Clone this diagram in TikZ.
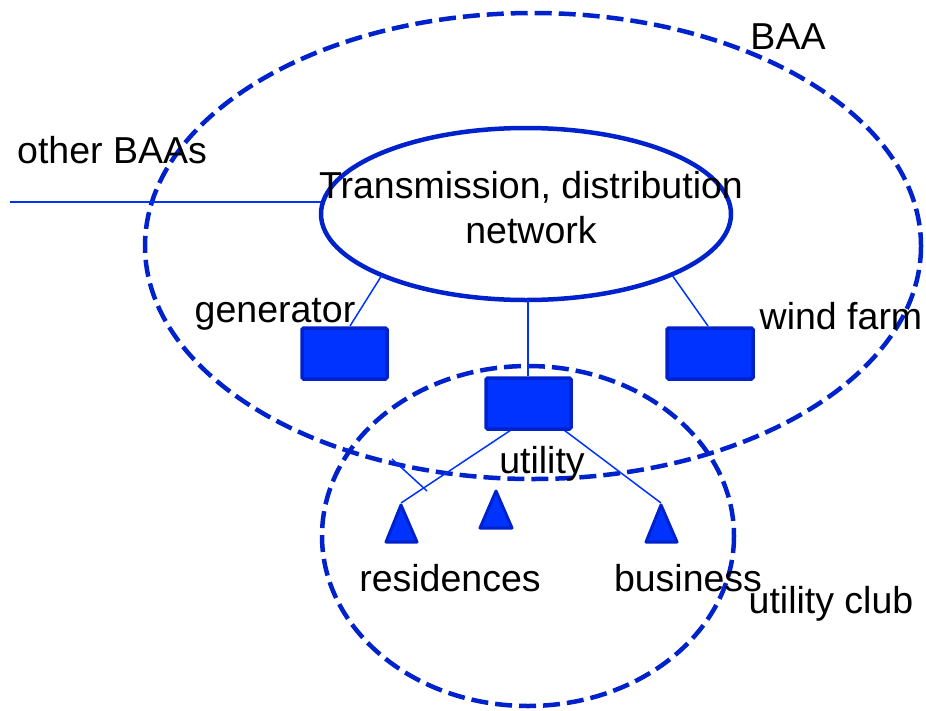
\documentclass[tikz,border=0pt]{standalone}
\usepackage{fontspec}
\setmainfont{Liberation Sans}
\definecolor{edgeblue}{RGB}{0,34,204}
\definecolor{fillblue}{RGB}{0,51,255}
\begin{document}
\begin{tikzpicture}[x=1pt,y=-1pt,
  dashring/.style={draw=edgeblue,line width=4.5pt,dash pattern=on 17pt off 7pt},
  solidring/.style={draw=edgeblue,line width=4.5pt},
  wire/.style={draw=fillblue,line width=1.5pt},
  devbox/.style={draw=edgeblue,fill=fillblue,line width=3.5pt,rounded corners=1.5pt},
  loadtri/.style={draw=edgeblue,fill=fillblue,line width=3pt,line join=round},
  lbl/.style={font=\fontsize{37.5}{45}\selectfont,inner sep=0pt,text=black}]
\useasboundingbox (0,0) rectangle (926,710);
% ellipses
\draw[dashring] (533,246) ellipse [x radius=388,y radius=233];
\draw[dashring] (528,536) ellipse [x radius=206,y radius=170];
\draw[solidring] (526,214) ellipse [x radius=205,y radius=86];
% named anchor points
\coordinate (obaa) at (10,202);
\coordinate (netL) at (321,202);
\coordinate (netG) at (382,275);
\coordinate (netW) at (672,275);
\coordinate (netU) at (528,300);
\coordinate (boxGt) at (350,326);
\coordinate (boxWt) at (708,326);
\coordinate (boxUt) at (528,376);
\coordinate (boxUl) at (511,430);
\coordinate (boxUr) at (564,430);
\coordinate (triR) at (401,503);
\coordinate (triB) at (661,503);
\coordinate (strayA) at (392,459);
\coordinate (strayB) at (427,491);
% wires
\draw[wire] (obaa) -- (netL);
\draw[wire] (netG) -- (boxGt);
\draw[wire] (netW) -- (boxWt);
\draw[wire] (netU) -- (boxUt);
\draw[wire] (boxUl) -- (triR);
\draw[wire] (boxUr) -- (triB);
\draw[wire] (strayA) -- (strayB);
% boxes
\draw[devbox] (302,328) rectangle (387,379);
\draw[devbox] (667,328) rectangle (753,379);
\draw[devbox] (486,378) rectangle (571,429);
% triangles
\draw[loadtri] (401,505) -- (417,542) -- (386,542) -- cycle;
\draw[loadtri] (496,491) -- (512,528) -- (480,528) -- cycle;
\draw[loadtri] (661,505) -- (677,542) -- (646,542) -- cycle;
% labels
\node[lbl] (tBAA) at (788,37) {BAA};
\node[lbl] (tOther) at (112,150) {other BAAs};
\node[lbl,align=center] (tNet) at (531,208) {Transmission, distribution\\network};
\node[lbl] (tGen) at (275,314) {generator};
\node[lbl] (tWind) at (841,316) {wind farm};
\node[lbl] (tUtil) at (542,464) {utility};
\node[lbl] (tRes) at (450,578) {residences};
\node[lbl] (tBus) at (688,578) {business};
\node[lbl] (tClub) at (831,604) {utility club};
\end{tikzpicture}
\end{document}
